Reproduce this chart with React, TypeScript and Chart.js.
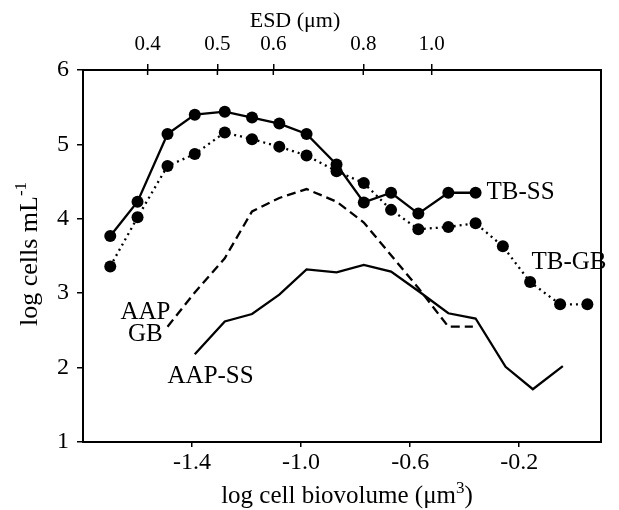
import React, { useEffect, useRef } from "react";
import { Chart, registerables } from "chart.js";

Chart.register(...registerables);

// ---- data (log cell biovolume, log cells per mL) ----
const tbBiovolume = [-1.70, -1.60, -1.49, -1.39, -1.28, -1.18, -1.08, -0.98, -0.87, -0.77, -0.67, -0.57, -0.46, -0.36];
const tbSS = [3.77, 4.23, 5.14, 5.40, 5.44, 5.36, 5.28, 5.14, 4.73, 4.22, 4.35, 4.07, 4.35, 4.35];

const tbGBBiovolume = [-1.70, -1.60, -1.49, -1.39, -1.28, -1.18, -1.08, -0.98, -0.87, -0.77, -0.67, -0.57, -0.46, -0.36, -0.26, -0.16, -0.05, 0.05];
const tbGB = [3.36, 4.02, 4.71, 4.87, 5.16, 5.07, 4.97, 4.85, 4.64, 4.48, 4.12, 3.86, 3.89, 3.94, 3.63, 3.15, 2.85, 2.85];

const aapGBBiovolume = [-1.49, -1.39, -1.28, -1.18, -1.08, -0.98, -0.87, -0.77, -0.67, -0.57, -0.46, -0.37];
const aapGB = [2.55, 3.01, 3.47, 4.10, 4.28, 4.40, 4.23, 3.95, 3.51, 3.07, 2.55, 2.55];

const aapSSBiovolume = [-1.39, -1.28, -1.18, -1.08, -0.98, -0.87, -0.77, -0.67, -0.57, -0.46, -0.36, -0.25, -0.15, -0.04];
const aapSS = [2.18, 2.62, 2.72, 2.98, 3.32, 3.28, 3.38, 3.29, 3.03, 2.73, 2.66, 2.01, 1.71, 2.02];

const xTickValues = [-1.4, -1.0, -0.6, -0.2];
const yTickValues = [1, 2, 3, 4, 5, 6];
const esdTickLabels = ["0.4", "0.5", "0.6", "0.8", "1.0"];
const esdTickPositions = [-1.563, -1.307, -1.102, -0.772, -0.521];

const seriesLabels = [
  { text: "TB-SS", x: -0.32, y: 4.36, align: "left" },
  { text: "TB-GB", x: -0.155, y: 3.42, align: "left" },
  { text: "AAP", x: -1.571, y: 2.74, align: "center" },
  { text: "GB", x: -1.571, y: 2.44, align: "center" },
  { text: "AAP-SS", x: -1.332, y: 1.88, align: "center" },
];

const FONT = "'Liberation Serif', 'Times New Roman', serif";
const FS_TICK = 24;
const FS_TOP_TICK = 21;
const FS_LABEL = 25;
const FS_TITLE = 25;
const FS_YTITLE = 26;
const FS_ESD = 22;

function pts(xs: number[], ys: number[]) {
  return xs.map((x, i) => ({ x, y: ys[i] }));
}

function drawWithSup(ctx: CanvasRenderingContext2D, fs: number, a: string, sup: string, b: string, cx: number, base: number) {
  const fsSup = Math.round(fs * 0.66);
  ctx.font = `${fs}px ${FONT}`;
  const wa = ctx.measureText(a).width;
  const wb = ctx.measureText(b).width;
  ctx.font = `${fsSup}px ${FONT}`;
  const ws = ctx.measureText(sup).width;
  const total = wa + ws + wb;
  let x = cx - total / 2;
  ctx.textAlign = "left";
  ctx.textBaseline = "alphabetic";
  ctx.font = `${fs}px ${FONT}`;
  ctx.fillText(a, x, base);
  x += wa;
  ctx.font = `${fsSup}px ${FONT}`;
  ctx.fillText(sup, x, base - fs * 0.42);
  x += ws;
  ctx.font = `${fs}px ${FONT}`;
  ctx.fillText(b, x, base);
}

const textPlugin = {
  id: "figureTexts",
  afterDraw(chart: any) {
    const ctx: CanvasRenderingContext2D = chart.ctx;
    const xs = chart.scales.x;
    const ys = chart.scales.y;
    const xt = chart.scales.x2;
    const area = chart.chartArea;
    ctx.save();
    ctx.fillStyle = "#000";
    ctx.strokeStyle = "#000";
    ctx.lineWidth = 1.5;
    // inward half of the top-axis ticks
    esdTickPositions.forEach((v) => {
      const px = xt.getPixelForValue(v);
      ctx.beginPath();
      ctx.moveTo(px, area.top);
      ctx.lineTo(px, area.top + 5);
      ctx.stroke();
    });
    // series labels
    ctx.font = `${FS_LABEL}px ${FONT}`;
    ctx.textBaseline = "middle";
    seriesLabels.forEach((l) => {
      ctx.textAlign = l.align as CanvasTextAlign;
      ctx.fillText(l.text, xs.getPixelForValue(l.x), ys.getPixelForValue(l.y));
    });
    // axis titles
    drawWithSup(ctx, FS_TITLE, "log cell biovolume (\u03bcm", "3", ")", 347, 503);
    ctx.font = `${FS_ESD}px ${FONT}`;
    ctx.textAlign = "center";
    ctx.textBaseline = "alphabetic";
    ctx.fillText("ESD (\u03bcm)", 295, 27);
    ctx.save();
    ctx.translate(37, 254);
    ctx.rotate(-Math.PI / 2);
    drawWithSup(ctx, FS_YTITLE, "log cells mL", "-1", "", 0, 0);
    ctx.restore();
    ctx.restore();
  },
};

export default function App() {
  const ref = useRef<HTMLCanvasElement | null>(null);
  useEffect(() => {
    if (!ref.current) return;
    const chart = new Chart(ref.current, {
      type: "scatter",
      data: {
        datasets: [
          {
            label: "TB-SS",
            data: pts(tbBiovolume, tbSS),
            showLine: true,
            borderColor: "#000",
            backgroundColor: "#000",
            borderWidth: 2.3,
            pointRadius: 6,
            pointBorderWidth: 0,
            pointBackgroundColor: "#000",
            tension: 0,
          },
          {
            label: "TB-GB",
            data: pts(tbGBBiovolume, tbGB),
            showLine: true,
            borderColor: "#000",
            backgroundColor: "#000",
            borderWidth: 2.3,
            borderDash: [2, 4],
            pointRadius: 6,
            pointBorderWidth: 0,
            pointBackgroundColor: "#000",
            tension: 0,
          },
          {
            label: "AAP-GB",
            data: pts(aapGBBiovolume, aapGB),
            showLine: true,
            borderColor: "#000",
            borderWidth: 2.3,
            borderDash: [9, 5],
            pointRadius: 0,
            tension: 0,
          },
          {
            label: "AAP-SS",
            data: pts(aapSSBiovolume, aapSS),
            showLine: true,
            borderColor: "#000",
            borderWidth: 2.3,
            pointRadius: 0,
            tension: 0,
          },
        ],
      },
      options: {
        animation: false,
        responsive: false,
        events: [],
        layout: { padding: 0 },
        plugins: { legend: { display: false }, tooltip: { enabled: false }, title: { display: false } },
        scales: {
          x: {
            type: "linear",
            position: "bottom",
            min: -1.8,
            max: 0.1,
            afterBuildTicks: (s: any) => {
              s.ticks = xTickValues.map((v) => ({ value: v }));
            },
            afterFit: (s: any) => {
              s.height = 68;
            },
            ticks: {
              font: { family: FONT, size: FS_TICK },
              color: "#000",
              padding: 1,
              maxRotation: 0,
              autoSkip: false,
              callback: (v: any) => Number(v).toFixed(1),
            },
            grid: { display: true, drawOnChartArea: false, drawTicks: true, tickLength: 5, color: "#000", lineWidth: 1.5 },
            border: { display: true, color: "#000", width: 2 },
          },
          x2: {
            type: "linear",
            position: "top",
            min: -1.8,
            max: 0.1,
            afterBuildTicks: (s: any) => {
              s.ticks = esdTickPositions.map((v) => ({ value: v }));
            },
            afterFit: (s: any) => {
              s.height = 70;
            },
            ticks: {
              font: { family: FONT, size: FS_TOP_TICK },
              color: "#000",
              padding: 7,
              maxRotation: 0,
              autoSkip: false,
              callback: (_v: any, i: number) => esdTickLabels[i],
            },
            grid: { display: true, drawOnChartArea: false, drawTicks: true, tickLength: 6, color: "#000", lineWidth: 1.5 },
            border: { display: true, color: "#000", width: 2 },
          },
          y: {
            type: "linear",
            position: "left",
            min: 1,
            max: 6,
            afterBuildTicks: (s: any) => {
              s.ticks = yTickValues.map((v) => ({ value: v }));
            },
            afterFit: (s: any) => {
              s.width = 83;
            },
            ticks: { font: { family: FONT, size: FS_TICK }, color: "#000", padding: 8, callback: (v: any) => String(v) },
            grid: { display: true, drawOnChartArea: false, drawTicks: true, tickLength: 6, color: "#000", lineWidth: 1.5 },
            border: { display: true, color: "#000", width: 2 },
          },
          y2: {
            type: "linear",
            position: "right",
            min: 1,
            max: 6,
            afterFit: (s: any) => {
              s.width = 18;
            },
            ticks: { display: false },
            grid: { display: false },
            border: { display: true, color: "#000", width: 2 },
          },
        },
      },
      plugins: [textPlugin],
    } as any);
    return () => chart.destroy();
  }, []);
  return (
    <div style={{ position: "absolute", left: 0, top: 0, background: "#fff" }}>
      <canvas ref={ref} width={619} height={510} style={{ width: 619, height: 510, display: "block" }} />
    </div>
  );
}
